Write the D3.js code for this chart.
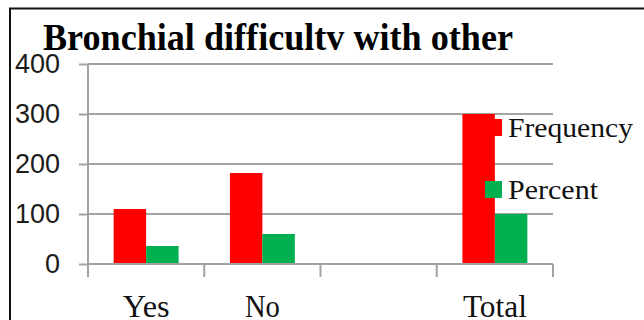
<!DOCTYPE html>
<html>
<head>
<meta charset="utf-8">
<script src="https://cdn.jsdelivr.net/npm/d3@7"></script>
<style>
  html, body { margin: 0; padding: 0; background: #fff; }
  svg { display: block; }
</style>
</head>
<body>
<svg id="chart" width="644" height="320"></svg>
<script>
// Survey answers and the two series drawn for each
const categories = ["Yes", "No", "", "Total"];
const seriesNames = ["Frequency", "Percent"];
const frequency = [110, 182, 0, 300];
const percent = [36, 60, 0, 100];
const yTicks = [0, 100, 200, 300, 400];
const colors = ["#ff0000", "#00b050"];
const titleText = "Bronchial difficultv with other";

const svg = d3.select("#chart");
const plotLeft = 88, plotRight = 553, plotTop = 64, plotBottom = 264;

// Outer frame (only its top and left edges fall inside the view)
svg.append("rect")
  .attr("x", 10).attr("y", 8.5)
  .attr("width", 800).attr("height", 500)
  .attr("fill", "none").attr("stroke", "#111").attr("stroke-width", 2);

const x = d3.scaleBand().domain(categories).range([plotLeft, plotRight]);
const inner = d3.scaleBand().domain(seriesNames).range([0, x.bandwidth()]).paddingOuter(0.79);
const y = d3.scaleLinear().domain([0, 400]).range([plotBottom, plotTop]);

const gridColor = "#a3a3a3";

// Horizontal gridlines
svg.append("g").selectAll("line").data(yTicks.filter(t => t > 0)).join("line")
  .attr("x1", plotLeft).attr("x2", plotRight)
  .attr("y1", d => y(d)).attr("y2", d => y(d))
  .attr("stroke", gridColor).attr("stroke-width", 2);

// Y axis: tick marks and labels
const yAxis = svg.append("g")
  .attr("transform", `translate(${plotLeft},0)`)
  .call(d3.axisLeft(y).tickValues(yTicks).tickSize(9).tickPadding(19).tickSizeOuter(0));
yAxis.select(".domain").remove();
yAxis.selectAll(".tick line").attr("stroke", gridColor).attr("stroke-width", 2);
yAxis.selectAll(".tick text")
  .attr("fill", "#1c1c1c")
  .style("font-family", "'Liberation Sans', Arial, sans-serif")
  .style("font-size", "27px");

// Y axis line, running down past zero
svg.append("line")
  .attr("x1", plotLeft).attr("x2", plotLeft)
  .attr("y1", plotTop).attr("y2", plotBottom + 13)
  .attr("stroke", gridColor).attr("stroke-width", 2);

// Bars
const rows = categories.map((c, i) => ({ cat: c, vals: [frequency[i], percent[i]] }));
const groups = svg.append("g").selectAll("g").data(rows).join("g")
  .attr("transform", d => `translate(${x(d.cat)},0)`);
groups.selectAll("rect")
  .data(d => d.vals.map((v, j) => ({ name: seriesNames[j], v, j })).filter(e => e.v > 0))
  .join("rect")
  .attr("x", e => inner(e.name))
  .attr("width", inner.bandwidth())
  .attr("y", e => y(e.v))
  .attr("height", e => y(0) - y(e.v))
  .attr("fill", e => colors[e.j]);

// X axis line and category boundary ticks
svg.append("line")
  .attr("x1", plotLeft).attr("x2", plotRight)
  .attr("y1", y(0)).attr("y2", y(0))
  .attr("stroke", gridColor).attr("stroke-width", 2);
const bounds = categories.map(c => x(c)).concat([x.range()[1]]);
svg.append("g").selectAll("line").data(bounds).join("line")
  .attr("x1", d => d).attr("x2", d => d)
  .attr("y1", y(0)).attr("y2", y(0) + 13)
  .attr("stroke", gridColor).attr("stroke-width", 2);

// Category labels
const labelWidths = { "Yes": 47, "No": 35, "Total": 64 };
svg.append("g").selectAll("text").data(categories.filter(c => c !== "")).join("text")
  .attr("x", d => x(d) + x.bandwidth() / 2)
  .attr("y", 317)
  .attr("text-anchor", "middle")
  .attr("textLength", d => labelWidths[d])
  .attr("lengthAdjust", "spacingAndGlyphs")
  .style("font-family", "'Liberation Serif', 'Times New Roman', serif")
  .style("font-size", "32px")
  .attr("fill", "#111")
  .text(d => d);

// Legend
const legendY = [119, 181];
const legendWidths = [125, 90];
const legend = svg.append("g").selectAll("g").data(seriesNames).join("g");
legend.append("rect")
  .attr("x", 485).attr("y", (d, i) => legendY[i])
  .attr("width", 17).attr("height", 17)
  .attr("fill", (d, i) => colors[i]);
legend.append("text")
  .attr("x", 508).attr("y", (d, i) => legendY[i] + 18)
  .attr("textLength", (d, i) => legendWidths[i])
  .attr("lengthAdjust", "spacingAndGlyphs")
  .style("font-family", "'Liberation Serif', 'Times New Roman', serif")
  .style("font-size", "28px")
  .attr("fill", "#111")
  .text(d => d);

// Title
svg.append("text")
  .attr("x", 43).attr("y", 50)
  .attr("textLength", 470)
  .attr("lengthAdjust", "spacingAndGlyphs")
  .style("font-family", "'Liberation Serif', 'Times New Roman', serif")
  .style("font-size", "37px")
  .style("font-weight", "bold")
  .attr("fill", "#000")
  .text(titleText);
</script>
</body>
</html>
